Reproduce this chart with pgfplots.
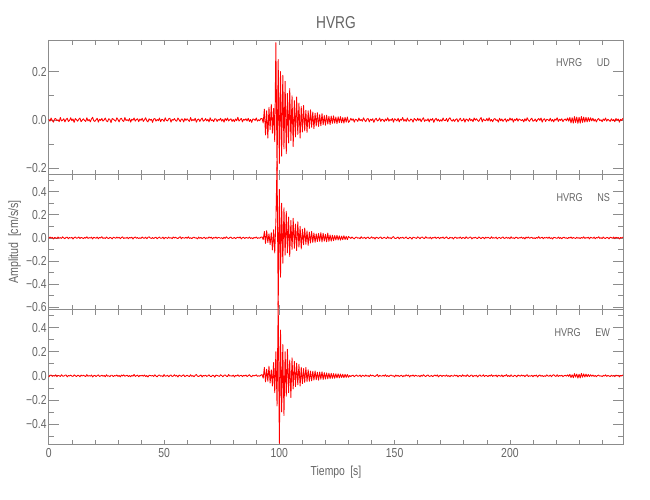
\documentclass[border=0pt]{standalone}
\usepackage{fontspec}
\setmainfont{Liberation Sans}[FakeStretch=0.8]
\usepackage{pgfplots}
\pgfplotsset{compat=1.18}
\definecolor{axgray}{RGB}{140,140,140}
\definecolor{txtgray}{RGB}{100,100,100}
\pgfplotsset{
  panel/.style={
    scale only axis, width=430.9pt, height=101.1pt, anchor=north west,
    xmin=0, xmax=249.2, clip=false,
    axis line style={draw=axgray, line width=0.5pt},
    every tick/.style={draw=axgray, line width=0.5pt},
    tick align=inside,
    major tick length=7.5pt, minor tick length=3.75pt,
    xtick={0,50,100,150,200},
    every major x tick/.append style={draw=none},
    minor xtick={0,10,...,240},
    tick label style={font=\fontsize{9.75}{11}\selectfont, text=txtgray},
    yticklabel style={inner sep=1.5pt},
    xticklabel style={inner sep=2.5pt},
  },
  trace/.style={red, line width=0.65pt, mark=none, line join=round},
}
\tikzset{lab/.style={anchor=base east, font=\fontsize{8.5}{9}\selectfont, text=txtgray}}
\begin{document}
\begin{tikzpicture}[x=1pt,y=1pt]
\path (0,0) rectangle (487.5,375);
% ---------------- UD ----------------
\begin{axis}[panel, at={(36.6pt,345pt)}, ymin=-0.227, ymax=0.331,
  ytick={-0.2,0,0.2}, yticklabels={−0.2,0.0,0.2}, minor ytick={-0.1,0.1}, xticklabels={}]
\addplot[trace] table[header=false, row sep=\\, x expr=\coordindex*0.5, y index=0] {
0.003\\-0.005\\0.008\\-0.002\\-0.009\\0.004\\0.006\\-0.003\\0.001\\-0.007\\
0.010\\-0.004\\-0.001\\0.005\\-0.008\\0.002\\0.007\\-0.006\\-0.002\\0.009\\
-0.003\\0.004\\-0.010\\0.006\\0.001\\-0.005\\0.003\\0.008\\-0.007\\-0.001\\
0.005\\-0.002\\-0.006\\0.009\\-0.004\\0.002\\-0.008\\0.004\\0.011\\-0.003\\
-0.006\\0.001\\0.007\\-0.009\\0.003\\-0.002\\0.006\\-0.005\\0.000\\0.008\\
-0.004\\-0.007\\0.005\\0.002\\-0.011\\0.006\\0.003\\-0.001\\-0.005\\0.009\\
0.002\\-0.008\\0.004\\0.007\\-0.003\\-0.006\\0.010\\-0.002\\0.001\\-0.004\\
0.006\\-0.009\\0.003\\-0.001\\0.008\\-0.005\\0.002\\0.005\\-0.007\\0.004\\
-0.002\\0.007\\-0.006\\0.001\\0.009\\-0.003\\-0.008\\0.005\\-0.001\\0.003\\
-0.010\\0.004\\0.006\\-0.005\\0.002\\-0.003\\0.008\\-0.007\\0.003\\0.001\\
-0.006\\0.009\\-0.002\\-0.004\\0.005\\0.007\\-0.009\\0.002\\-0.001\\0.006\\
-0.003\\-0.005\\0.008\\0.001\\-0.007\\0.004\\0.003\\-0.008\\0.006\\-0.002\\
0.005\\-0.001\\-0.006\\0.010\\-0.004\\0.002\\-0.003\\0.007\\-0.009\\0.001\\
0.004\\-0.006\\0.002\\0.008\\-0.005\\-0.002\\0.006\\-0.004\\0.003\\-0.008\\
0.009\\-0.003\\0.001\\-0.007\\0.005\\0.004\\-0.006\\0.002\\-0.001\\0.007\\
-0.005\\0.003\\-0.009\\0.006\\-0.002\\0.008\\-0.004\\0.001\\0.005\\-0.006\\
0.002\\-0.007\\0.004\\-0.003\\0.011\\-0.005\\0.001\\0.006\\-0.008\\0.003\\
-0.001\\0.005\\-0.004\\0.007\\-0.006\\0.002\\-0.010\\0.004\\0.003\\-0.002\\
0.008\\-0.005\\0.001\\-0.003\\0.006\\
0.006\\-0.012\\0.045\\-0.062\\0.038\\-0.075\\0.052\\-0.040\\0.065\\-0.055\\
0.048\\-0.090\\0.320\\-0.210\\0.250\\-0.180\\0.200\\-0.150\\0.185\\-0.120\\
0.160\\-0.140\\0.110\\-0.095\\0.130\\-0.085\\0.100\\-0.110\\0.080\\-0.070\\
0.095\\-0.060\\0.070\\-0.075\\0.055\\-0.050\\0.060\\-0.045\\0.040\\-0.052\\
0.038\\-0.035\\0.042\\-0.030\\0.033\\-0.036\\0.028\\-0.025\\0.030\\-0.027\\
0.022\\-0.024\\0.026\\-0.020\\0.018\\-0.022\\0.020\\-0.017\\0.015\\-0.019\\
0.016\\-0.014\\0.017\\-0.013\\0.012\\-0.015\\0.013\\-0.011\\0.014\\-0.012\\
0.010\\-0.013\\0.011\\-0.009\\0.012\\-0.010\\
-0.004\\0.007\\-0.002\\0.005\\-0.009\\0.003\\0.001\\-0.006\\0.008\\-0.003\\
0.002\\-0.005\\0.009\\-0.001\\-0.007\\0.004\\0.006\\-0.008\\0.003\\-0.002\\
0.005\\-0.010\\0.002\\0.007\\-0.004\\-0.001\\0.008\\-0.006\\0.003\\0.001\\
-0.007\\0.004\\-0.003\\0.009\\-0.005\\0.002\\-0.002\\0.006\\-0.009\\0.005\\
0.001\\-0.004\\0.007\\-0.008\\0.003\\-0.001\\0.010\\-0.005\\0.002\\-0.006\\
0.008\\-0.003\\-0.005\\0.004\\0.001\\-0.009\\0.006\\0.002\\-0.004\\0.007\\
-0.002\\0.005\\-0.007\\0.003\\0.009\\-0.006\\0.001\\-0.003\\0.005\\-0.008\\
0.004\\-0.001\\0.006\\-0.010\\0.002\\0.007\\-0.004\\0.003\\-0.006\\0.001\\
-0.005\\0.008\\-0.002\\-0.003\\0.006\\-0.007\\0.004\\0.009\\-0.001\\-0.005\\
0.003\\-0.006\\0.002\\0.005\\-0.008\\0.001\\0.007\\-0.004\\-0.002\\0.006\\
-0.009\\0.004\\0.001\\-0.005\\0.007\\-0.003\\0.002\\-0.007\\0.008\\-0.001\\
0.005\\-0.002\\-0.006\\0.003\\0.010\\-0.008\\0.004\\-0.001\\-0.003\\0.006\\
-0.004\\0.009\\-0.005\\0.002\\-0.007\\0.003\\0.006\\-0.002\\0.001\\-0.009\\
0.007\\-0.003\\0.004\\-0.006\\0.001\\0.005\\-0.008\\0.002\\-0.004\\0.008\\
-0.001\\0.006\\-0.009\\0.003\\-0.002\\0.007\\-0.005\\0.004\\0.001\\-0.003\\
0.002\\-0.008\\0.005\\-0.004\\0.009\\-0.001\\-0.006\\0.003\\0.007\\-0.005\\
-0.003\\0.004\\-0.007\\0.001\\0.006\\-0.002\\0.008\\-0.009\\0.002\\0.005\\
-0.006\\0.003\\0.001\\-0.004\\0.007\\-0.005\\0.002\\-0.008\\0.004\\-0.001\\
0.009\\-0.006\\0.003\\-0.002\\0.005\\-0.007\\0.001\\0.004\\-0.003\\0.008\\
-0.005\\0.010\\-0.012\\0.009\\-0.013\\0.014\\-0.011\\0.012\\-0.014\\0.011\\
-0.013\\0.014\\-0.010\\0.012\\-0.009\\0.011\\-0.008\\0.010\\-0.006\\0.009\\
-0.004\\0.007\\-0.005\\0.003\\-0.008\\0.002\\0.006\\-0.003\\0.001\\-0.007\\
0.004\\-0.002\\0.008\\-0.005\\0.003\\-0.001\\-0.006\\0.005\\-0.003\\0.002\\
-0.007\\0.006\\-0.001\\0.004\\-0.009\\0.003\\-0.002\\0.007\\
};
\node[lab] at (rel axis cs:0.985,0.805) {HVRG\hspace{11pt}UD};
\end{axis}
% ---------------- NS ----------------
\begin{axis}[panel, at={(36.6pt,243.9pt)}, ymin=-0.621, ymax=0.546,
  ytick={-0.6,-0.4,-0.2,0,0.2,0.4}, yticklabels={−0.6,−0.4,−0.2,0.0,0.2,0.4},
  minor ytick={-0.5,-0.3,-0.1,0.1,0.3,0.5}, xticklabels={}]
\addplot[trace] table[header=false, row sep=\\, x expr=\coordindex*0.5, y index=0] {
-0.004\\0.007\\-0.002\\0.005\\-0.009\\0.003\\0.001\\-0.006\\0.008\\-0.003\\
0.002\\-0.005\\0.009\\-0.001\\-0.007\\0.004\\0.006\\-0.008\\0.003\\-0.002\\
0.005\\-0.010\\0.002\\0.007\\-0.004\\-0.001\\0.008\\-0.006\\0.003\\0.001\\
-0.007\\0.004\\-0.003\\0.009\\-0.005\\0.002\\-0.002\\0.006\\-0.009\\0.005\\
0.001\\-0.004\\0.007\\-0.008\\0.003\\-0.001\\0.010\\-0.005\\0.002\\-0.006\\
0.008\\-0.003\\-0.005\\0.004\\0.001\\-0.009\\0.006\\0.002\\-0.004\\0.007\\
-0.002\\0.005\\-0.007\\0.003\\0.009\\-0.006\\0.001\\-0.003\\0.005\\-0.008\\
0.004\\-0.001\\0.006\\-0.010\\0.002\\0.007\\-0.004\\0.003\\-0.006\\0.001\\
-0.005\\0.008\\-0.002\\-0.003\\0.006\\-0.007\\0.004\\0.009\\-0.001\\-0.005\\
0.003\\-0.006\\0.002\\0.005\\-0.008\\0.001\\0.007\\-0.004\\-0.002\\0.006\\
-0.009\\0.004\\0.001\\-0.005\\0.007\\-0.003\\0.002\\-0.007\\0.008\\-0.001\\
0.005\\-0.002\\-0.006\\0.003\\0.010\\-0.008\\0.004\\-0.001\\-0.003\\0.006\\
-0.004\\0.009\\-0.005\\0.002\\-0.007\\0.003\\0.006\\-0.002\\0.001\\-0.009\\
0.007\\-0.003\\0.004\\-0.006\\0.001\\0.005\\-0.008\\0.002\\-0.004\\0.008\\
-0.001\\0.006\\-0.009\\0.003\\-0.002\\0.007\\-0.005\\0.004\\0.001\\-0.003\\
0.002\\-0.008\\0.005\\-0.004\\0.009\\-0.001\\-0.006\\0.003\\0.007\\-0.005\\
-0.003\\0.004\\-0.007\\0.001\\0.006\\-0.002\\0.008\\-0.009\\0.002\\0.005\\
-0.006\\0.003\\0.001\\-0.004\\0.007\\-0.005\\0.002\\-0.008\\0.004\\-0.001\\
0.008\\-0.005\\0.001\\-0.003\\0.006\\
0.008\\-0.015\\0.055\\-0.048\\0.062\\-0.040\\0.035\\-0.058\\0.045\\-0.105\\
0.070\\-0.130\\0.150\\0.660\\-0.600\\0.420\\-0.340\\0.300\\-0.220\\0.260\\
-0.150\\0.230\\-0.130\\0.180\\-0.160\\0.150\\-0.100\\0.170\\-0.090\\0.120\\
-0.110\\0.140\\-0.080\\0.100\\-0.095\\0.075\\-0.060\\0.085\\-0.055\\0.060\\
-0.065\\0.050\\-0.045\\0.055\\-0.040\\0.042\\-0.038\\0.035\\-0.032\\0.038\\
-0.030\\0.045\\-0.035\\0.040\\-0.028\\0.030\\-0.034\\0.042\\-0.030\\0.025\\
-0.028\\0.022\\-0.024\\0.020\\-0.018\\0.022\\-0.019\\0.017\\-0.020\\0.015\\
-0.016\\0.018\\-0.014\\0.013\\-0.015\\0.012\\
0.003\\-0.005\\0.008\\-0.002\\-0.009\\0.004\\0.006\\-0.003\\0.001\\-0.007\\
0.010\\-0.004\\-0.001\\0.005\\-0.008\\0.002\\0.007\\-0.006\\-0.002\\0.009\\
-0.003\\0.004\\-0.010\\0.006\\0.001\\-0.005\\0.003\\0.008\\-0.007\\-0.001\\
0.005\\-0.002\\-0.006\\0.009\\-0.004\\0.002\\-0.008\\0.004\\0.011\\-0.003\\
-0.006\\0.001\\0.007\\-0.009\\0.003\\-0.002\\0.006\\-0.005\\0.000\\0.008\\
-0.004\\-0.007\\0.005\\0.002\\-0.011\\0.006\\0.003\\-0.001\\-0.005\\0.009\\
0.002\\-0.008\\0.004\\0.007\\-0.003\\-0.006\\0.010\\-0.002\\0.001\\-0.004\\
0.006\\-0.009\\0.003\\-0.001\\0.008\\-0.005\\0.002\\0.005\\-0.007\\0.004\\
-0.002\\0.007\\-0.006\\0.001\\0.009\\-0.003\\-0.008\\0.005\\-0.001\\0.003\\
-0.010\\0.004\\0.006\\-0.005\\0.002\\-0.003\\0.008\\-0.007\\0.003\\0.001\\
-0.006\\0.009\\-0.002\\-0.004\\0.005\\0.007\\-0.009\\0.002\\-0.001\\0.006\\
-0.003\\-0.005\\0.008\\0.001\\-0.007\\0.004\\0.003\\-0.008\\0.006\\-0.002\\
0.005\\-0.001\\-0.006\\0.010\\-0.004\\0.002\\-0.003\\0.007\\-0.009\\0.001\\
0.004\\-0.006\\0.002\\0.008\\-0.005\\-0.002\\0.006\\-0.004\\0.003\\-0.008\\
0.009\\-0.003\\0.001\\-0.007\\0.005\\0.004\\-0.006\\0.002\\-0.001\\0.007\\
-0.005\\0.003\\-0.009\\0.006\\-0.002\\0.008\\-0.004\\0.001\\0.005\\-0.006\\
0.002\\-0.007\\0.004\\-0.003\\0.011\\-0.005\\0.001\\0.006\\-0.008\\0.003\\
-0.001\\0.005\\-0.004\\0.007\\-0.006\\0.002\\-0.010\\0.004\\0.003\\-0.002\\
-0.004\\0.007\\-0.005\\0.003\\-0.008\\0.002\\0.006\\-0.003\\0.001\\-0.007\\
0.004\\-0.002\\0.008\\-0.005\\0.003\\-0.001\\-0.006\\0.005\\-0.003\\0.002\\
-0.007\\0.004\\-0.003\\0.009\\-0.005\\0.002\\-0.002\\0.006\\-0.009\\0.005\\
0.001\\-0.004\\0.007\\-0.008\\0.003\\-0.001\\0.010\\-0.005\\0.002\\-0.006\\
0.008\\-0.003\\-0.005\\0.004\\0.001\\-0.009\\0.006\\0.002\\-0.004\\0.007\\
-0.007\\0.006\\-0.001\\0.004\\-0.009\\0.003\\-0.002\\0.007\\
};
\node[lab] at (rel axis cs:0.985,0.805) {HVRG\hspace{11pt}NS};
\end{axis}
% ---------------- EW ----------------
\begin{axis}[panel, at={(36.6pt,142.7pt)}, ymin=-0.571, ymax=0.549,
  ytick={-0.4,-0.2,0,0.2,0.4}, yticklabels={−0.4,−0.2,0.0,0.2,0.4},
  minor ytick={-0.5,-0.3,-0.1,0.1,0.3,0.5}, xticklabels={0,50,100,150,200}]
\addplot[trace] table[header=false, row sep=\\, x expr=\coordindex*0.5, y index=0] {
-0.010\\0.004\\0.006\\-0.005\\0.002\\-0.003\\0.008\\-0.007\\0.003\\0.001\\
-0.006\\0.009\\-0.002\\-0.004\\0.005\\0.007\\-0.009\\0.002\\-0.001\\0.006\\
-0.003\\-0.005\\0.008\\0.001\\-0.007\\0.004\\0.003\\-0.008\\0.006\\-0.002\\
0.005\\-0.001\\-0.006\\0.010\\-0.004\\0.002\\-0.003\\0.007\\-0.009\\0.001\\
0.004\\-0.006\\0.002\\0.008\\-0.005\\-0.002\\0.006\\-0.004\\0.003\\-0.008\\
0.009\\-0.003\\0.001\\-0.007\\0.005\\0.004\\-0.006\\0.002\\-0.001\\0.007\\
-0.005\\0.003\\-0.009\\0.006\\-0.002\\0.008\\-0.004\\0.001\\0.005\\-0.006\\
0.002\\-0.007\\0.004\\-0.003\\0.011\\-0.005\\0.001\\0.006\\-0.008\\0.003\\
-0.001\\0.005\\-0.004\\0.007\\-0.006\\0.002\\-0.010\\0.004\\0.003\\-0.002\\
0.003\\-0.005\\0.008\\-0.002\\-0.009\\0.004\\0.006\\-0.003\\0.001\\-0.007\\
0.010\\-0.004\\-0.001\\0.005\\-0.008\\0.002\\0.007\\-0.006\\-0.002\\0.009\\
-0.003\\0.004\\-0.010\\0.006\\0.001\\-0.005\\0.003\\0.008\\-0.007\\-0.001\\
0.005\\-0.002\\-0.006\\0.009\\-0.004\\0.002\\-0.008\\0.004\\0.011\\-0.003\\
-0.006\\0.001\\0.007\\-0.009\\0.003\\-0.002\\0.006\\-0.005\\0.000\\0.008\\
-0.004\\-0.007\\0.005\\0.002\\-0.011\\0.006\\0.003\\-0.001\\-0.005\\0.009\\
0.002\\-0.008\\0.004\\0.007\\-0.003\\-0.006\\0.010\\-0.002\\0.001\\-0.004\\
0.006\\-0.009\\0.003\\-0.001\\0.008\\-0.005\\0.002\\0.005\\-0.007\\0.004\\
-0.002\\0.007\\-0.006\\0.001\\0.009\\-0.003\\-0.008\\0.005\\-0.001\\0.003\\
0.008\\-0.005\\0.001\\-0.003\\0.006\\
0.010\\-0.020\\0.070\\-0.050\\0.055\\-0.045\\0.080\\-0.060\\0.050\\-0.085\\
0.110\\-0.140\\0.200\\-0.250\\0.620\\-0.560\\0.380\\-0.300\\0.260\\-0.330\\
0.200\\-0.170\\0.220\\-0.140\\0.130\\-0.180\\0.150\\-0.110\\0.120\\-0.090\\
0.105\\-0.075\\0.095\\-0.085\\0.070\\-0.065\\0.060\\-0.055\\0.070\\-0.048\\
0.050\\-0.045\\0.040\\-0.042\\0.038\\-0.035\\0.040\\-0.033\\0.030\\-0.036\\
0.032\\-0.028\\0.034\\-0.030\\0.026\\-0.027\\0.024\\-0.025\\0.022\\-0.023\\
0.020\\-0.021\\0.018\\-0.020\\0.017\\-0.018\\0.016\\-0.017\\0.015\\-0.014\\
0.013\\-0.015\\0.012\\-0.013\\0.011\\-0.012\\
0.003\\-0.006\\0.002\\0.005\\-0.008\\0.001\\0.007\\-0.004\\-0.002\\0.006\\
-0.009\\0.004\\0.001\\-0.005\\0.007\\-0.003\\0.002\\-0.007\\0.008\\-0.001\\
0.005\\-0.002\\-0.006\\0.003\\0.010\\-0.008\\0.004\\-0.001\\-0.003\\0.006\\
-0.004\\0.009\\-0.005\\0.002\\-0.007\\0.003\\0.006\\-0.002\\0.001\\-0.009\\
0.007\\-0.003\\0.004\\-0.006\\0.001\\0.005\\-0.008\\0.002\\-0.004\\0.008\\
-0.001\\0.006\\-0.009\\0.003\\-0.002\\0.007\\-0.005\\0.004\\0.001\\-0.003\\
0.002\\-0.008\\0.005\\-0.004\\0.009\\-0.001\\-0.006\\0.003\\0.007\\-0.005\\
-0.003\\0.004\\-0.007\\0.001\\0.006\\-0.002\\0.008\\-0.009\\0.002\\0.005\\
-0.006\\0.003\\0.001\\-0.004\\0.007\\-0.005\\0.002\\-0.008\\0.004\\-0.001\\
-0.004\\0.007\\-0.002\\0.005\\-0.009\\0.003\\0.001\\-0.006\\0.008\\-0.003\\
0.002\\-0.005\\0.009\\-0.001\\-0.007\\0.004\\0.006\\-0.008\\0.003\\-0.002\\
0.005\\-0.010\\0.002\\0.007\\-0.004\\-0.001\\0.008\\-0.006\\0.003\\0.001\\
-0.007\\0.004\\-0.003\\0.009\\-0.005\\0.002\\-0.002\\0.006\\-0.009\\0.005\\
0.001\\-0.004\\0.007\\-0.008\\0.003\\-0.001\\0.010\\-0.005\\0.002\\-0.006\\
0.008\\-0.003\\-0.005\\0.004\\0.001\\-0.009\\0.006\\0.002\\-0.004\\0.007\\
-0.002\\0.005\\-0.007\\0.003\\0.009\\-0.006\\0.001\\-0.003\\0.005\\-0.008\\
0.004\\-0.001\\0.006\\-0.010\\0.002\\0.007\\-0.004\\0.003\\-0.006\\0.001\\
-0.005\\0.008\\-0.002\\-0.003\\0.006\\-0.007\\0.004\\0.009\\-0.001\\-0.005\\
0.009\\-0.006\\0.003\\-0.002\\0.005\\-0.007\\0.001\\0.004\\-0.003\\0.008\\
-0.005\\0.012\\-0.014\\0.009\\-0.016\\0.018\\-0.011\\0.015\\-0.019\\0.013\\
-0.017\\0.020\\-0.012\\0.016\\-0.010\\0.014\\-0.008\\0.011\\-0.006\\0.009\\
-0.004\\0.007\\-0.005\\0.003\\-0.008\\0.002\\0.006\\-0.003\\0.001\\-0.007\\
0.004\\-0.002\\0.008\\-0.005\\0.003\\-0.001\\-0.006\\0.005\\-0.003\\0.002\\
-0.007\\0.006\\-0.001\\0.004\\-0.009\\0.003\\-0.002\\0.007\\
};
\node[lab] at (rel axis cs:0.985,0.805) {HVRG\hspace{11pt}EW};
\end{axis}
\node[anchor=base, font=\fontsize{12.9}{14}\selectfont, text=txtgray] at (252,353.25) {HVRG};
\node[anchor=base, font=\fontsize{9.75}{11}\selectfont, text=txtgray] at (252,18.75) {Tiempo\hspace{4pt}[s]};
\node[rotate=90, anchor=center, font=\fontsize{10}{11}\selectfont, text=txtgray] at (11,193.5) {Amplitud\hspace{4pt}[cm/s/s]};
\end{tikzpicture}
\end{document}
